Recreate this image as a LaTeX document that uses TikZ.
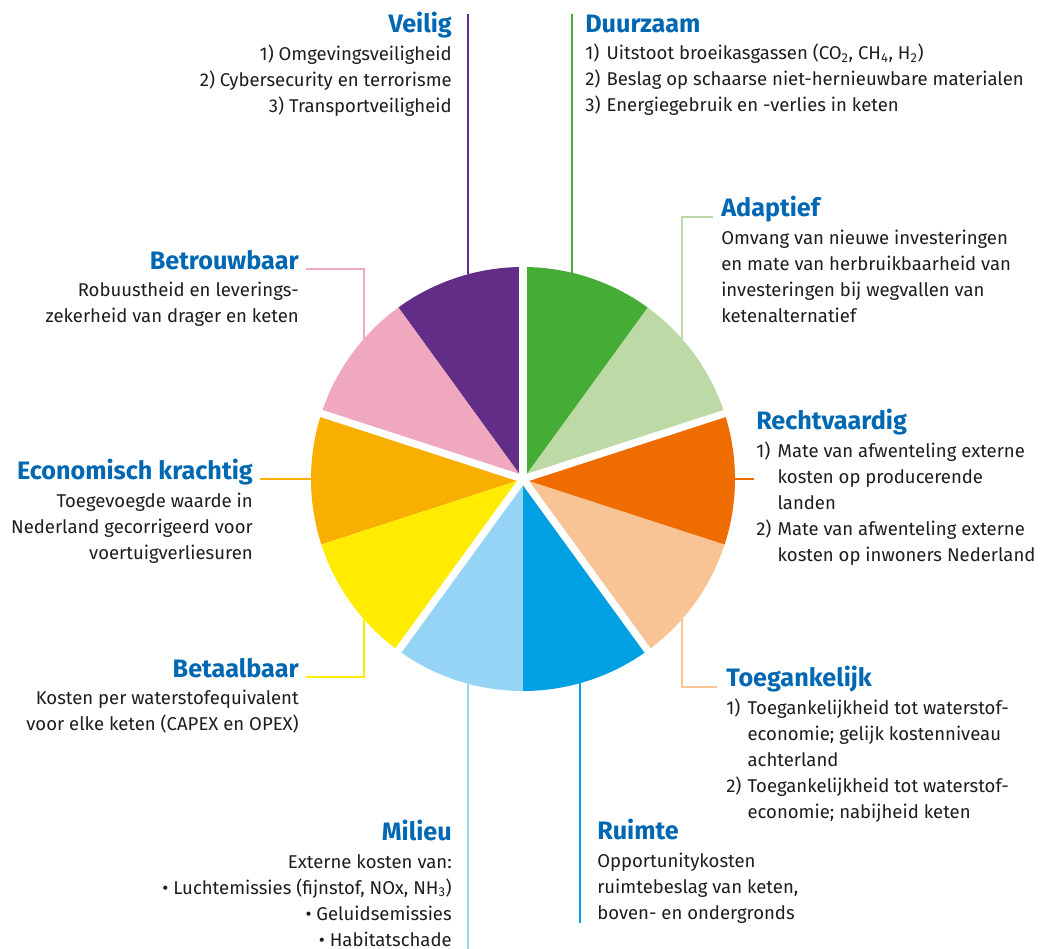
\documentclass[tikz,border=0pt]{standalone}
\usepackage{fontspec}
\setmainfont{Fira Sans}
\usetikzlibrary{calc}

\definecolor{titelblauw}{RGB}{0,103,178}
\definecolor{tekstzwart}{RGB}{29,29,27}
\definecolor{paars}{RGB}{97,45,134}
\definecolor{roze}{RGB}{240,168,191}
\definecolor{okergeel}{RGB}{249,175,0}
\definecolor{geel}{RGB}{255,236,0}
\definecolor{lichtblauw}{RGB}{150,212,245}
\definecolor{blauw}{RGB}{0,160,226}
\definecolor{lichtoranje}{RGB}{248,195,149}
\definecolor{oranje}{RGB}{238,108,0}
\definecolor{lichtgroen}{RGB}{189,218,166}
\definecolor{groen}{RGB}{69,173,53}

\newcommand{\kop}[1]{{\fontsize{18.9}{19.5}\selectfont\bfseries\color{titelblauw}#1}}
\newcommand{\nr}[1]{\makebox[16pt][l]{#1}}
\newcommand{\inspring}{\hspace*{16pt}}
\newcommand{\bovenstrut}{\rule{0pt}{15pt}}

\begin{document}
\begin{tikzpicture}[x=0.75pt,y=0.75pt,yscale=-1,xscale=1,
  tekst/.style={inner sep=0pt, font=\fontsize{13.9}{19.5}\selectfont, text=tekstzwart},
  lijn/.style={line width=1.5pt}]
\path[use as bounding box] (0,0) rectangle (1040,949);

% taart
\coordinate (c) at (523,479);
\foreach \a/\kleur in {90/paars,126/roze,162/okergeel,198/geel,234/lichtblauw,270/blauw,306/lichtoranje,342/oranje,18/lichtgroen,54/groen}
  \fill[\kleur] (c) -- ++(-\a:212) arc[start angle=-\a, delta angle=-36, radius=212] -- cycle;
\foreach \a in {90,162,234,306,18}
  \draw[white, line width=5.5pt] (c) -- ++(-\a:216);

% punten op de rand
\coordinate (pv) at ($(c)+(-105:212)$);
\coordinate (gv) at ($(c)+(-76.5:212)$);
\coordinate (lg) at ($(c)+(-41.5:212)$);
\coordinate (or) at ($(c)+(0:212)$);
\coordinate (lo) at ($(c)+(41.5:212)$);
\coordinate (bl) at ($(c)+(74.3:212)$);
\coordinate (lb) at ($(c)+(105:212)$);
\coordinate (ge) at ($(c)+(138.5:212)$);
\coordinate (og) at ($(c)+(180:212)$);
\coordinate (rz) at ($(c)+(-138.5:212)$);

% teksten
\node[tekst, align=right, anchor=north east] (veilig) at (452,12) {\bovenstrut\kop{Veilig}\\[1pt]
  1) Omgevingsveiligheid\\2) Cybersecurity en terrorisme\\3) Transportveiligheid};
\node[tekst, align=left, anchor=north west] (duurzaam) at (585,12) {\bovenstrut\kop{Duurzaam}\\[1pt]
  \nr{1)}Uitstoot broeikasgassen (CO\textsubscript{2}, CH\textsubscript{4}, H\textsubscript{2})\\
  \nr{2)}Beslag op schaarse niet-hernieuwbare materialen\\
  \nr{3)}Energiegebruik en -verlies in keten};
\node[tekst, align=left, anchor=north west] (adaptief) at (721,196) {\bovenstrut\kop{Adaptief}\\[1pt]
  Omvang van nieuwe investeringen\\en mate van herbruikbaarheid van\\
  investeringen bij wegvallen van\\ketenalternatief};
\node[tekst, align=left, anchor=north west] (rechtvaardig) at (756,409) {\bovenstrut\kop{Rechtvaardig}\\[1pt]
  \nr{1)}Mate van afwenteling externe\\\inspring kosten op producerende\\\inspring landen\\
  \nr{2)}Mate van afwenteling externe\\\inspring kosten op inwoners Nederland};
\node[tekst, align=left, anchor=north west] (toegankelijk) at (726,666) {\bovenstrut\kop{Toegankelijk}\\[1pt]
  \nr{1)}Toegankelijkheid tot waterstof-\\\inspring economie; gelijk kostenniveau\\\inspring achterland\\
  \nr{2)}Toegankelijkheid tot waterstof-\\\inspring economie; nabijheid keten};
\node[tekst, align=left, anchor=north west] (ruimte) at (597,819) {\bovenstrut\kop{Ruimte}\\[1pt]
  Opportunitykosten\\ruimtebeslag van keten,\\boven- en ondergronds};
\node[tekst, align=right, anchor=north east] (milieu) at (452,820) {\bovenstrut\kop{Milieu}\\[1pt]
  Externe kosten van:\\\textbullet\ Luchtemissies (fijnstof, NOx, NH\textsubscript{3})\\
  \textbullet\ Geluidsemissies\\\textbullet\ Habitatschade};
\node[tekst, align=right, anchor=north east] (betaalbaar) at (299,657) {\bovenstrut\kop{Betaalbaar}\\[1pt]
  Kosten per waterstofequivalent\\voor elke keten (CAPEX en OPEX)};
\node[tekst, align=right, anchor=north east] (economisch) at (253,459) {\bovenstrut\kop{Economisch krachtig}\\[1pt]
  Toegevoegde waarde in\\Nederland gecorrigeerd voor\\voertuigverliesuren};
\node[tekst, align=right, anchor=north east] (betrouwbaar) at (299,249) {\bovenstrut\kop{Betrouwbaar}\\[1pt]
  Robuustheid en leverings-\\zekerheid van drager en keten};

% verbindingslijnen
\draw[lijn, paars] ($(pv |- veilig.north)+(0,2)$) -- (pv);
\draw[lijn, groen] ($(gv |- duurzaam.north)+(0,2)$) -- (gv);
\draw[lijn, lichtgroen] (lg) |- ($(adaptief.north west)+(-8,21)$);
\draw[lijn, oranje] (or) -- ($(or -| rechtvaardig.west)+(-2,0)$);
\draw[lijn, lichtoranje] (lo) |- ($(toegankelijk.north west)+(-9,21)$);
\draw[lijn, blauw] (bl) -- (bl |- ruimte.south);
\draw[lijn, lichtblauw] (lb) -- ($(lb |- milieu.south)+(0,4)$);
\draw[lijn, geel] ($(betaalbaar.north east)+(7,20)$) -| (ge);
\draw[lijn, okergeel] ($(economisch.north east)+(7,20)$) -- (og);
\draw[lijn, roze] ($(betrouwbaar.north east)+(7,20)$) -| (rz);
\end{tikzpicture}
\end{document}
